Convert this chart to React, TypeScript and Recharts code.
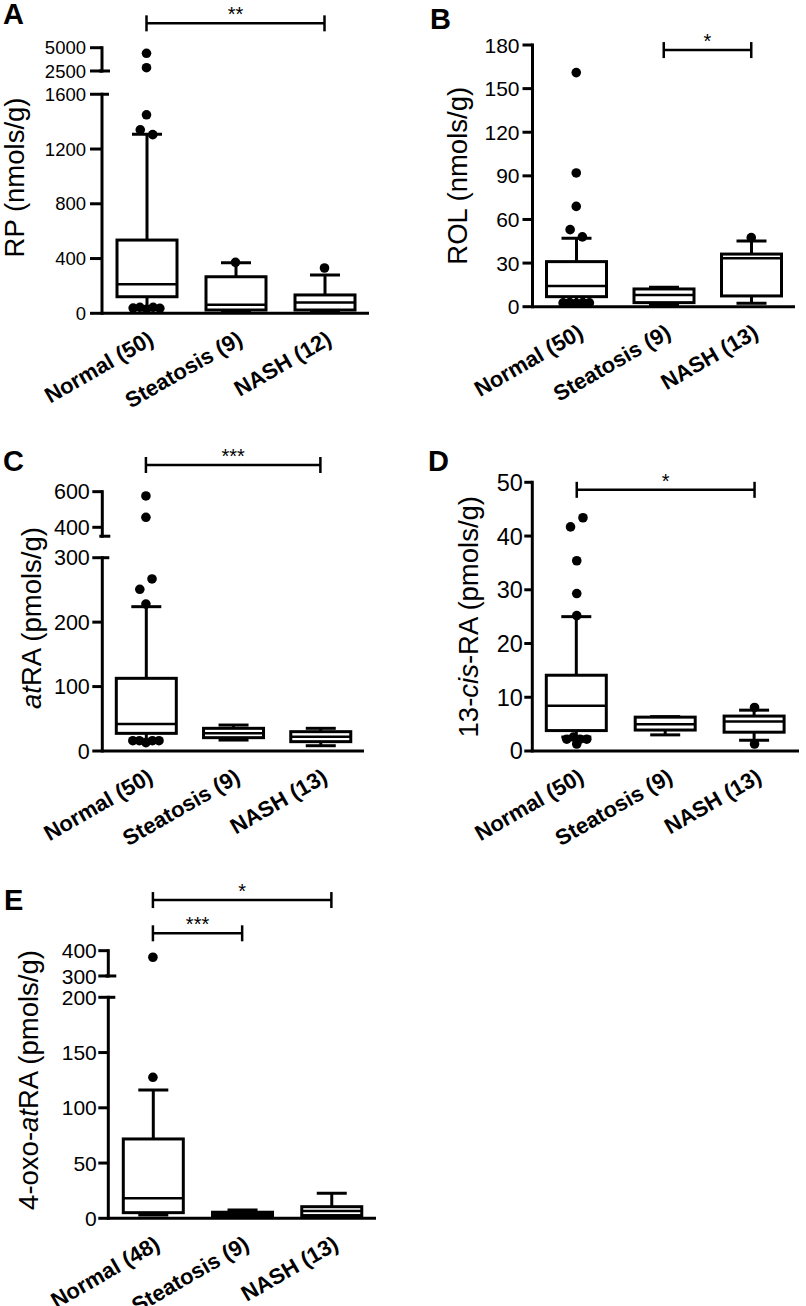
import React from 'react';
import { ComposedChart, Bar, Scatter, XAxis, YAxis, ReferenceLine } from 'recharts';

const FONT = '"Liberation Sans", Arial, Helvetica, sans-serif';

// ---- group labels ----
const groupsA = ['Normal (50)', 'Steatosis (9)', 'NASH (12)'];
const groupsBCD = ['Normal (50)', 'Steatosis (9)', 'NASH (13)'];
const groupsE = ['Normal (48)', 'Steatosis (9)', 'NASH (13)'];

// ---- A: RP (nmols/g) ----
const rpWhiskerLow = [45, 12, 10];
const rpQ1 = [121, 24, 24];
const rpMedian = [212, 63, 78];
const rpQ3 = [535, 267, 134];
const rpWhiskerHigh = [1307, 370, 280];
// outliers per group; each inner list is one row of points drawn side by side
const rpOutliers = [
  [[4400], [2850], [1450], [1340, 1305], [38, 44, 30, 44, 36]],
  [[372]],
  [[331]],
];
const rpTicks = [0, 400, 800, 1200, 1600, 2500, 5000];

// ---- B: ROL (nmols/g) ----
const rolWhiskerLow = [3.4, 1.2, 2.3];
const rolQ1 = [6.9, 2.8, 7.4];
const rolMedian = [14.2, 8, 33.3];
const rolQ3 = [31, 12.2, 36.2];
const rolWhiskerHigh = [47, 13.3, 45.2];
const rolOutliers = [
  [[161], [92], [69], [53, 48], [2.6, 2.8, 2.4, 2.8, 2.6]],
  [],
  [[47.5]],
];
const rolTicks = [0, 30, 60, 90, 120, 150, 180];

// ---- C: atRA (pmols/g) ----
const atraWhiskerLow = [17, 17, 8.2];
const atraQ1 = [27.4, 20.7, 14.5];
const atraMedian = [41.9, 27.5, 22.2];
const atraQ3 = [112.8, 35.2, 30];
const atraWhiskerHigh = [224, 40.3, 35.2];
const atraOutliers = [
  [[576], [456], [251, 267], [228], [16, 16, 13, 16, 16]],
  [],
  [],
];
const atraTicks = [0, 100, 200, 300, 400, 600];

// ---- D: 13-cis-RA (pmols/g) ----
const cisWhiskerLow = [2.6, 3.0, 2.0];
const cisQ1 = [3.8, 3.9, 3.5];
const cisMedian = [8.4, 5.0, 5.5];
const cisQ3 = [14.1, 6.3, 6.5];
const cisWhiskerHigh = [25, 6.4, 7.6];
const cisOutliers = [
  [[41.7, 43.4], [35.4], [29.3], [25.2], [2.2, 2.6, 2.2, 2.2], [1.3]],
  [],
  [[8.1], [1.3]],
];
const cisTicks = [0, 10, 20, 30, 40, 50];

// ---- E: 4-oxo-atRA (pmols/g) ----
const oxoWhiskerLow = [3, 1, 1];
const oxoQ1 = [5.1, 2, 2.5];
const oxoMedian = [18.1, 4, 6.5];
const oxoQ3 = [71.8, 5.5, 10.5];
const oxoWhiskerHigh = [116.1, 7.5, 22.6];
const oxoOutliers = [[[374], [127.6]], [], []];
const oxoTicks = [0, 50, 100, 150, 200, 300, 400];

type Broken = { breakAt: number; upperStart: number; upperT: number; upperK: number } | null;
type Part = { text: string; italic?: boolean };
type Sig = { from: number; to: number; stars: string };

interface PanelCfg {
  letter: string;
  title: Part[];
  groups: string[];
  whiskerLow: number[];
  q1: number[];
  median: number[];
  q3: number[];
  whiskerHigh: number[];
  outliers: number[][][];
  ticks: number[];
  segments: number[][];
  significance: Sig[];
  broken: Broken;
  layout: {
    left: number; top: number; width: number; height: number;
    axisX: number; plotRight: number; zeroY: number; pxPerUnit: number;
    domainTop: number; bracketLevels: number[]; titleX: number; titleY: number;
    letterX: number; letterY: number;
    tickFont: number; tickSize: number; tickMargin: number;
  };
}

const makeScale = (b: Broken) => (v: number) =>
  !b || v <= b.breakAt ? v : b.upperT + (v - b.upperStart) * b.upperK;

const panels: PanelCfg[] = [
  {
    letter: 'A',
    title: [{ text: 'RP (nmols/g)' }],
    groups: groupsA,
    whiskerLow: rpWhiskerLow, q1: rpQ1, median: rpMedian, q3: rpQ3, whiskerHigh: rpWhiskerHigh,
    outliers: rpOutliers,
    ticks: rpTicks,
    segments: [[0, 1600], [2500, 5000]],
    significance: [{ from: 0, to: 2, stars: '**' }],
    broken: { breakAt: 1600, upperStart: 2500, upperT: 1770, upperK: 0.068 },
    layout: {
      left: 0, top: 0, width: 403, height: 420, axisX: 102, plotRight: 369, zeroY: 313.3,
      pxPerUnit: 0.1369, domainTop: 2200, bracketLevels: [2118], titleX: 14, titleY: 177.5,
      letterX: 3, letterY: 24, tickFont: 18.5, tickSize: 12, tickMargin: 4,
    },
  },
  {
    letter: 'B',
    title: [{ text: 'ROL (nmols/g)' }],
    groups: groupsBCD,
    whiskerLow: rolWhiskerLow, q1: rolQ1, median: rolMedian, q3: rolQ3, whiskerHigh: rolWhiskerHigh,
    outliers: rolOutliers,
    ticks: rolTicks,
    segments: [[0, 180]],
    significance: [{ from: 1, to: 2, stars: '*' }],
    broken: null,
    layout: {
      left: 403, top: 0, width: 403, height: 420, axisX: 532.5, plotRight: 795, zeroY: 306.7,
      pxPerUnit: 1.4539, domainTop: 180, bracketLevels: [176.5], titleX: 54.5, titleY: 175.8,
      letterX: 430, letterY: 29, tickFont: 21, tickSize: 10, tickMargin: 3,
    },
  },
  {
    letter: 'C',
    title: [{ text: 'at', italic: true }, { text: 'RA (pmols/g)' }],
    groups: groupsBCD,
    whiskerLow: atraWhiskerLow, q1: atraQ1, median: atraMedian, q3: atraQ3, whiskerHigh: atraWhiskerHigh,
    outliers: atraOutliers,
    ticks: atraTicks,
    segments: [[0, 300], [350, 600]],
    significance: [{ from: 0, to: 2, stars: '***' }],
    broken: { breakAt: 300, upperStart: 400, upperT: 347.2, upperK: 0.2765 },
    layout: {
      left: 0, top: 420, width: 403, height: 440, axisX: 102.3, plotRight: 364, zeroY: 751,
      pxPerUnit: 0.6443, domainTop: 450, bracketLevels: [443.9], titleX: 31, titleY: 198,
      letterX: 3, letterY: 471, tickFont: 21.5, tickSize: 10, tickMargin: 2.5,
    },
  },
  {
    letter: 'D',
    title: [{ text: '13-' }, { text: 'cis', italic: true }, { text: '-RA (pmols/g)' }],
    groups: groupsBCD,
    whiskerLow: cisWhiskerLow, q1: cisQ1, median: cisMedian, q3: cisQ3, whiskerHigh: cisWhiskerHigh,
    outliers: cisOutliers,
    ticks: cisTicks,
    segments: [[0, 50]],
    significance: [{ from: 0, to: 2, stars: '*' }],
    broken: null,
    layout: {
      left: 403, top: 420, width: 403, height: 440, axisX: 532.3, plotRight: 799, zeroY: 751,
      pxPerUnit: 5.374, domainTop: 50, bracketLevels: [48.6], titleX: 65.3, titleY: 196.7,
      letterX: 428, letterY: 471, tickFont: 23.5, tickSize: 8, tickMargin: 1.5,
    },
  },
  {
    letter: 'E',
    title: [{ text: '4-oxo-' }, { text: 'at', italic: true }, { text: 'RA (pmols/g)' }],
    groups: groupsE,
    whiskerLow: oxoWhiskerLow, q1: oxoQ1, median: oxoMedian, q3: oxoQ3, whiskerHigh: oxoWhiskerHigh,
    outliers: oxoOutliers,
    ticks: oxoTicks,
    segments: [[0, 200], [300, 400]],
    significance: [{ from: 0, to: 2, stars: '*' }, { from: 0, to: 1, stars: '***' }],
    broken: { breakAt: 200, upperStart: 300, upperT: 219.3, upperK: 0.229 },
    layout: {
      left: 0, top: 860, width: 403, height: 446, axisX: 108.3, plotRight: 376, zeroY: 1218.3,
      pxPerUnit: 1.105, domainTop: 295, bracketLevels: [288, 257.9], titleX: 28, titleY: 220,
      letterX: 4, letterY: 910, tickFont: 21, tickSize: 10, tickMargin: 1.5,
    },
  },
];

const BoxShape = (props: any) => {
  const { x, y, width, height, payload } = props;
  const [t1, t3] = payload.range;
  const k = height / (t3 - t1);
  const py = (t: number) => y + (t3 - t) * k;
  const cx = x + width / 2;
  const cap = 15;
  return (
    <g stroke="#000" strokeWidth={3} fill="none">
      <line x1={cx} x2={cx} y1={py(t3)} y2={py(payload.hi)} />
      <line x1={cx - cap} x2={cx + cap} y1={py(payload.hi)} y2={py(payload.hi)} />
      <line x1={cx} x2={cx} y1={py(t1)} y2={py(payload.lo)} />
      <line x1={cx - cap} x2={cx + cap} y1={py(payload.lo)} y2={py(payload.lo)} />
      <rect x={x} y={y} width={width} height={height} fill="#fff" />
      <line x1={x} x2={x + width} y1={py(payload.med)} y2={py(payload.med)} strokeWidth={2.5} />
    </g>
  );
};

const Dot = (p: any) => <circle cx={p.cx} cy={p.cy} r={4.8} fill="#000" />;

const GroupTick = (p: any) => {
  const x = p.x + 8.5;
  const y = p.y + 30;
  return (
    <text
      x={x}
      y={y}
      transform={`rotate(-30 ${x} ${y})`}
      textAnchor="end"
      fontSize={22}
      fontWeight="bold"
      fontFamily={FONT}
      fill="#000"
    >
      {p.payload.value}
    </text>
  );
};

const ValueTick = (p: any) => (
  <text
    x={p.x}
    y={p.y}
    dy="0.36em"
    textAnchor="end"
    fontSize={p.size}
    fontFamily={FONT}
    fill="#000"
  >
    {p.format(p.payload.value)}
  </text>
);

const AxisTitle = ({ parts, posX, posY }: any) => (
  <text
    x={posX}
    y={posY}
    transform={`rotate(-90 ${posX} ${posY})`}
    textAnchor="middle"
    dominantBaseline="central"
    fontSize={27.5}
    fontFamily={FONT}
    fill="#000"
  >
    {parts.map((pt: Part, i: number) => (
      <tspan key={i} fontStyle={pt.italic ? 'italic' : 'normal'}>{pt.text}</tspan>
    ))}
  </text>
);

// axis piece; on a broken axis the lower piece gets a mark at its top, the upper piece at its bottom
const axisSegShape = (mark: 'none' | 'head' | 'foot') => (p: any) => {
  const yTop = Math.min(p.y1, p.y2);
  const yBot = Math.max(p.y1, p.y2);
  return (
    <g stroke="#000" strokeWidth={3}>
      <line x1={p.x1} y1={p.y1} x2={p.x2} y2={p.y2} strokeLinecap="square" />
      {mark === 'head' && <line x1={p.x1} x2={p.x1 + 7} y1={yTop} y2={yTop} />}
      {mark === 'foot' && <line x1={p.x1 - 3} x2={p.x1 + 8} y1={yBot} y2={yBot} />}
    </g>
  );
};

const bracketShape = (stars: string) => (p: any) => {
  const y = p.y1;
  return (
    <g>
      <g stroke="#000" strokeWidth={2.5}>
        <line x1={p.x1} x2={p.x2} y1={y} y2={y} />
        <line x1={p.x1} x2={p.x1} y1={y - 8} y2={y + 8} />
        <line x1={p.x2} x2={p.x2} y1={y - 8} y2={y + 8} />
      </g>
      <text x={(p.x1 + p.x2) / 2} y={y - 2} textAnchor="middle" fontSize={20} fontFamily={FONT} fill="#000">
        {stars}
      </text>
    </g>
  );
};

function BoxPanel({ cfg }: { cfg: PanelCfg }) {
  const T = makeScale(cfg.broken);
  const L = cfg.layout;
  const rows = cfg.groups.map((name, i) => ({
    name,
    range: [T(cfg.q1[i]), T(cfg.q3[i])],
    med: T(cfg.median[i]),
    lo: T(cfg.whiskerLow[i]),
    hi: T(cfg.whiskerHigh[i]),
  }));
  const dots: { x: number; y: number }[] = [];
  cfg.outliers.forEach((groupRows, gi) =>
    groupRows.forEach((row) => {
      const step = row.length <= 2 ? 0.14 : 0.075;
      row.forEach((v, k) => dots.push({ x: gi + (k - (row.length - 1) / 2) * step, y: T(v) }));
    })
  );
  const xh = 80;
  const plotTop = L.zeroY - L.domainTop * L.pxPerUnit;
  const margin = {
    top: plotTop - L.top,
    right: L.left + L.width - L.plotRight,
    left: 0,
    bottom: L.top + L.height - L.zeroY - xh,
  };
  const tickLabel = (t: number) => {
    const r = cfg.ticks.find((v) => Math.abs(T(v) - t) < 1e-6);
    return r === undefined ? '' : String(r);
  };
  const broken = cfg.segments.length > 1;

  return (
    <div style={{ position: 'absolute', left: L.left, top: L.top }}>
      <ComposedChart width={L.width} height={L.height} data={rows} margin={margin}>
        <XAxis
          xAxisId="cat"
          dataKey="name"
          type="category"
          height={xh}
          interval={0}
          tickLine={false}
          tickSize={0}
          tickMargin={0}
          axisLine={{ stroke: '#000', strokeWidth: 3 }}
          tick={<GroupTick />}
        />
        <XAxis xAxisId="num" dataKey="x" type="number" domain={[-0.5, 2.5]} allowDataOverflow hide />
        <YAxis
          dataKey="y"
          type="number"
          width={L.axisX - L.left}
          domain={[0, L.domainTop]}
          allowDataOverflow
          ticks={cfg.ticks.map(T)}
          interval={0}
          axisLine={false}
          tickLine={{ stroke: '#000', strokeWidth: 3 }}
          tickSize={L.tickSize}
          tickMargin={L.tickMargin}
          tick={<ValueTick format={tickLabel} size={L.tickFont} />}
          label={<AxisTitle parts={cfg.title} posX={L.titleX} posY={L.titleY} />}
        />
        {cfg.segments.map(([a, b], i) => (
          <ReferenceLine
            key={`seg${i}`}
            xAxisId="num"
            ifOverflow="visible"
            segment={[{ x: -0.5, y: T(a) }, { x: -0.5, y: T(b) }]}
            shape={axisSegShape(!broken ? 'none' : i === 0 ? 'head' : 'foot')}
          />
        ))}
        <Bar
          xAxisId="cat"
          dataKey="range"
          barSize={60}
          shape={<BoxShape />}
          isAnimationActive={false}
        />
        <Scatter
          xAxisId="num"
          data={dots}
          dataKey="y"
          shape={<Dot />}
          isAnimationActive={false}
        />
        {cfg.significance.map((s, i) => (
          <ReferenceLine
            key={`sig${i}`}
            xAxisId="num"
            ifOverflow="visible"
            segment={[{ x: s.from, y: L.bracketLevels[i] }, { x: s.to, y: L.bracketLevels[i] }]}
            shape={bracketShape(s.stars)}
          />
        ))}
      </ComposedChart>
    </div>
  );
}

export default function App() {
  return (
    <div style={{ position: 'absolute', left: 0, top: 0, width: 806, height: 1306, background: '#fff' }}>
      {panels.map((cfg) => (
        <BoxPanel key={cfg.letter} cfg={cfg} />
      ))}
      <svg width={806} height={1306} style={{ position: 'absolute', left: 0, top: 0, pointerEvents: 'none' }}>
        {panels.map((cfg) => (
          <text
            key={cfg.letter}
            x={cfg.layout.letterX}
            y={cfg.layout.letterY}
            fontSize={29}
            fontWeight="bold"
            fontFamily={FONT}
            fill="#000"
          >
            {cfg.letter}
          </text>
        ))}
      </svg>
    </div>
  );
}
